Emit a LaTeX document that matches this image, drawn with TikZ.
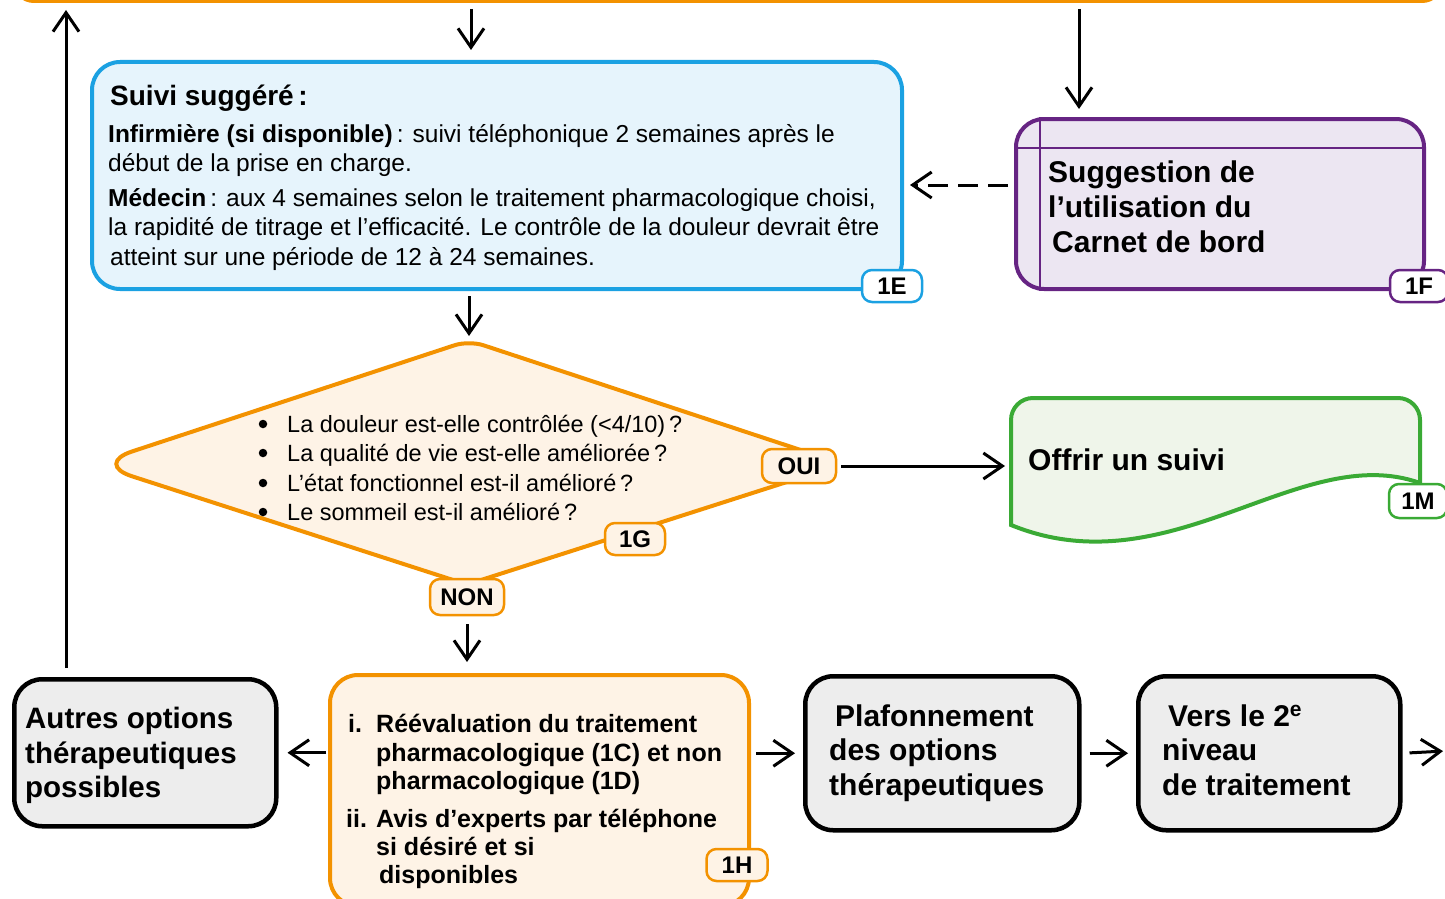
\documentclass[tikz,border=0pt]{standalone}
\usepackage{fontspec}
\setmainfont{Liberation Sans}
\usetikzlibrary{arrows.meta}
\definecolor{org}{HTML}{F39200}
\definecolor{orgl}{HTML}{FEF3E6}
\definecolor{blu}{HTML}{1BA1E2}
\definecolor{blul}{HTML}{E6F4FC}
\definecolor{pur}{HTML}{662483}
\definecolor{purl}{HTML}{ECE6F2}
\definecolor{grn}{HTML}{3AAA35}
\definecolor{grnl}{HTML}{EFF5EA}
\definecolor{gryl}{HTML}{EDEDED}
\newcommand\setfs[1]{\fontsize{#1}{#1}\selectfont}
\begin{document}
\begin{tikzpicture}[x=1pt,y=-1pt,
  arr/.style={-{Straight Barb[length=19pt,width=26pt,line width=3pt]}, line width=3pt},
  box/.style={draw, line width=4pt, rounded corners=28pt, inner sep=0pt, anchor=north west},
  gbox/.style={box, draw=black, fill=gryl, line width=4.5pt},
  tag/.style={draw, line width=2.5pt, rounded corners=10pt, inner sep=0pt, minimum height=32pt, font=\bfseries\setfs{24}},
  txt/.style={anchor=base west, inner sep=0pt},
  big/.style={txt, font=\bfseries\setfs{30}},
  mid/.style={txt, font=\bfseries\setfs{25}},
  reg/.style={txt, font=\setfs{24.5}},
  dia/.style={txt, font=\setfs{23.5}},
  dot/.style={circle, fill=black, inner sep=0pt, minimum size=8.5pt}
]
\useasboundingbox (0,0) rectangle (1445,899);

% top orange box
\node[draw=org, line width=4pt, rounded corners=20pt, minimum width=1428pt, minimum height=80pt, anchor=south west, inner sep=0pt] (top) at (12,3) {};

% boxes
\node[box, draw=blu, fill=blul, minimum width=810pt, minimum height=227pt] (E) at (90,60) {};
\node[box, draw=pur, fill=purl, minimum width=408pt, minimum height=170pt] (F) at (1014,117) {};
\draw[pur, line width=2pt] ([xshift=26pt]F.north west) -- ([xshift=26pt]F.south west);
\draw[pur, line width=2pt] ([yshift=-31pt]F.north west) -- ([yshift=-31pt]F.north east);

% diamond
\coordinate (Gt) at (469,340.5);
\coordinate (Gr) at (843,464);
\coordinate (Gb) at (467,584.5);
\coordinate (Gl) at (94,464);
\coordinate (Gm) at (281.5,402.25);
\coordinate (Gv) at (469,343);
\draw[org, fill=orgl, line width=4pt] (Gm) [rounded corners=15pt] -- (Gt) [rounded corners=40pt] -- (Gr) [rounded corners=15pt] -- (Gb) [rounded corners=40pt] -- (Gl) -- cycle;

% 1M document shape
\coordinate (Mw) at (1011,466);
\draw[grn, fill=grnl, line width=4pt] (1011,525) [rounded corners=22pt] -- (1011,398) -- (1420,398) [sharp corners] -- (1420,483) .. controls (1300,440) and (1170,590) .. (1011,525) -- cycle;

% bottom boxes
\node[box, draw=org, fill=orgl, minimum width=419pt, minimum height=231pt] (H) at (328,673) {};
\node[gbox, minimum width=262pt, minimum height=147pt] (A) at (12,677) {};
\node[gbox, minimum width=274pt, minimum height=154pt] (P) at (803,674) {};
\node[gbox, minimum width=262pt, minimum height=154pt] (V) at (1136,674) {};
\coordinate (out) at (1445,751);

% helper coordinates for connectors
\coordinate (xt) at (471,0);
\coordinate (xf) at (1079,0);
\coordinate (xa) at (66,0);
\coordinate (dy) at (0,185);

% connectors
\draw[arr, shorten <=6pt, shorten >=10pt] (top.south -| xt) -- (E.north -| xt);
\draw[arr, shorten <=6pt, shorten >=8pt] (top.south -| xf) -- (F.north -| xf);
\draw[arr, shorten <=9pt, shorten >=7pt] (A.north -| xa) -- (top.south -| xa);
\draw[arr, dash pattern=on 20pt off 10pt, shorten <=6pt, shorten >=6pt] (F.west |- dy) -- (E.east |- dy);
\draw[arr, shorten <=5pt, shorten >=7pt] (E.south -| Gv) -- (Gv);
\draw[arr, shorten <=2pt, shorten >=9pt] (H.west |- A.east) -- (A.east);
\draw[arr, shorten <=5pt, shorten >=8pt] (H.east |- P.west) -- (P.west);
\draw[arr, shorten <=8pt, shorten >=8pt] (P.east) -- (V.west);
\draw[arr, shorten <=7pt, shorten >=2pt] (V.east) -- (out);

% tags
\node[tag, draw=blu, fill=white, minimum width=60pt] (tE) at (892,286) {1E};
\node[tag, draw=pur, fill=white, minimum width=58pt] (tF) at (1419,286) {1F};
\node[tag, draw=org, fill=orgl, minimum width=74pt, minimum height=34pt] (tOUI) at (799,466) {OUI};
\node[tag, draw=org, fill=orgl, minimum width=60pt] (tG) at (635,539) {1G};
\node[tag, draw=org, fill=orgl, minimum width=74pt, minimum height=36pt] (tNON) at (467,597) {NON};
\node[tag, draw=grn, fill=white, minimum width=58pt, minimum height=34pt] (tM) at (1418,501) {1M};
\node[tag, draw=org, fill=orgl, minimum width=61pt] (tH) at (737,865) {1H};

\draw[arr, shorten <=4pt, shorten >=6pt] (tOUI.east) -- (Mw);
\draw[arr, shorten <=8pt, shorten >=11pt] (tNON.south) -- (tNON.south |- H.north);

% texts 1E
\node[txt, font=\bfseries\setfs{28}] (e0) at (110,105) {Suivi suggéré\,:};
\node[reg] (e1) at (108,142) {\textbf{Infirmière (si disponible)}\,: suivi téléphonique 2 semaines après le};
\node[reg] (e2) at (108,171) {début de la prise en charge.};
\node[reg] (e3) at (108,206) {\textbf{Médecin}\,: aux 4 semaines selon le traitement pharmacologique choisi,};
\node[reg] (e4) at (108,235) {la rapidité de titrage et l’efficacité. Le contrôle de la douleur devrait être};
\node[reg] (e5) at (110,265) {atteint sur une période de 12 à 24 semaines.};

% texts 1F
\node[big] (f1) at (1048,182) {Suggestion de};
\node[big] (f2) at (1048,217) {l’utilisation du};
\node[big] (f3) at (1052,252) {Carnet de bord};

% diamond texts
\node[dot] (b1) at (263,424) {};
\node[dot] (b2) at (263,453) {};
\node[dot] (b3) at (263,483) {};
\node[dot] (b4) at (263,512) {};
\node[dia] (g1) at (287,432) {La douleur est-elle contrôlée (<4/10)\,?};
\node[dia] (g2) at (287,461) {La qualité de vie est-elle améliorée\,?};
\node[dia] (g3) at (287,491) {L’état fonctionnel est-il amélioré\,?};
\node[dia] (g4) at (287,520) {Le sommeil est-il amélioré\,?};

% 1M text
\node[big] (m1) at (1028,470) {Offrir un suivi};

% 1H texts
\node[mid] (h0) at (348,732) {i.};
\node[mid] (h1) at (376,732) {Réévaluation du traitement};
\node[mid] (h2) at (376,761) {pharmacologique (1C) et non};
\node[mid] (h3) at (376,789) {pharmacologique (1D)};
\node[mid] (h4) at (346,827) {ii.};
\node[mid] (h5) at (376,827) {Avis d’experts par téléphone};
\node[mid] (h6) at (376,855) {si désiré et si};
\node[mid] (h7) at (379,883) {disponibles};

% grey box texts
\node[big, font=\bfseries\setfs{29.5}] (a1) at (25,728) {Autres options};
\node[big, font=\bfseries\setfs{29.5}] (a2) at (25,763) {thérapeutiques};
\node[big, font=\bfseries\setfs{29.5}] (a3) at (25,797) {possibles};
\node[big] (p1) at (835,726) {Plafonnement};
\node[big] (p2) at (829,760) {des options};
\node[big] (p3) at (829,795) {thérapeutiques};
\node[big] (v1) at (1168,726) {Vers le 2\textsuperscript{e}};
\node[big] (v2) at (1162,760) {niveau};
\node[big] (v3) at (1162,795) {de traitement};
\end{tikzpicture}
\end{document}
